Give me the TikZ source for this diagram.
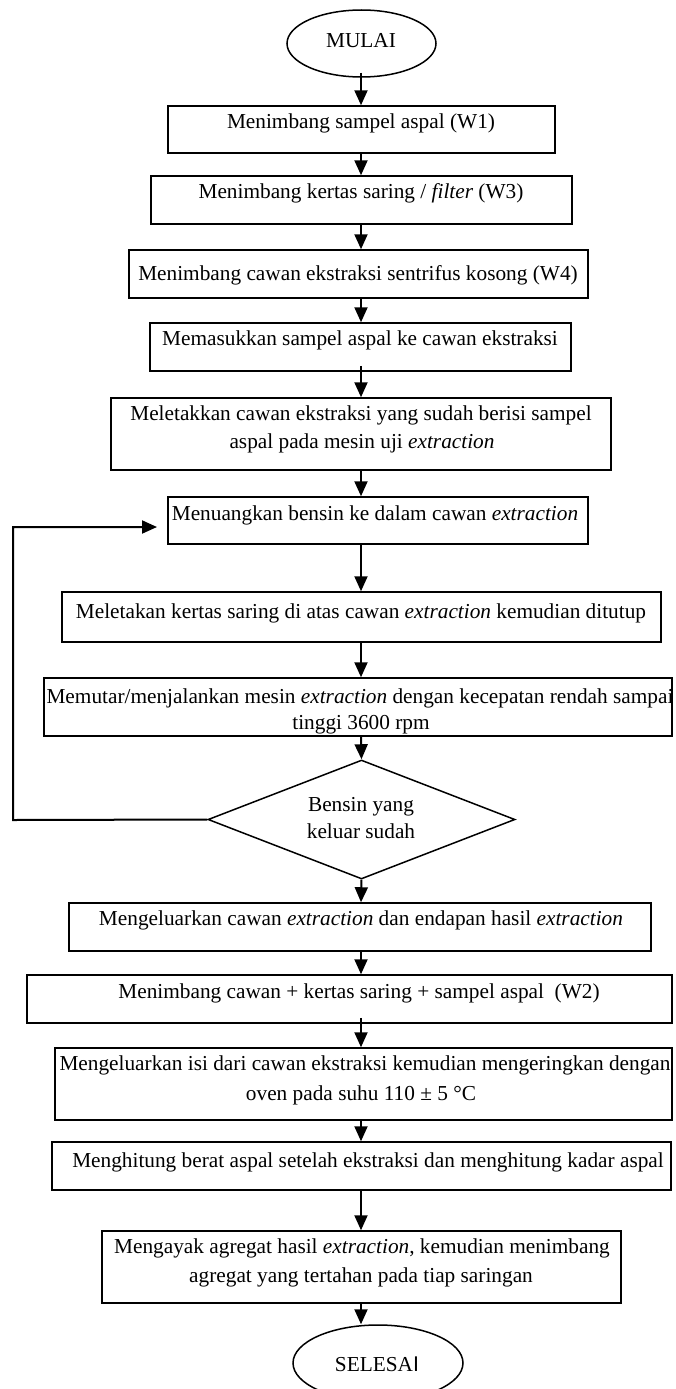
\documentclass[tikz,border=0pt]{standalone}
\usepackage{fontspec}
\setmainfont{Liberation Serif}
\newfontfamily\sansI{Liberation Sans}
\usetikzlibrary{arrows.meta,shapes.geometric}
\begin{document}
\begin{tikzpicture}[x=1pt,y=-1pt,
  box/.style={draw,line width=1.5pt,rectangle,inner sep=0pt},
  oval/.style={draw,line width=1.5pt,ellipse,inner sep=0pt},
  dia/.style={draw,line width=1.5pt,diamond,inner sep=0pt},
  txt/.style={inner sep=0pt,anchor=base,font=\fontsize{21.3}{28}\selectfont},
  arr/.style={line width=2pt,-{Triangle[width=13pt,length=15pt]}},
  lin/.style={line width=2pt}]
\useasboundingbox (0,0) rectangle (675,1389);
\coordinate (axis) at (361,0);
% shapes
\node[oval,minimum width=149,minimum height=67] (start) at (361.5,43.5) {};
\node[box,minimum width=387,minimum height=47] (b1) at (361.5,129.5) {};
\node[box,minimum width=421,minimum height=48] (b2) at (361.5,200) {};
\node[box,minimum width=459,minimum height=48] (b3) at (358.5,274) {};
\node[box,minimum width=421,minimum height=48] (b4) at (360.5,347) {};
\node[box,minimum width=500,minimum height=72] (b5) at (361,434) {};
\node[box,minimum width=420,minimum height=47] (b6) at (378,520.5) {};
\node[box,minimum width=599,minimum height=50] (b7) at (361.5,617) {};
\node[box,minimum width=628,minimum height=58] (b8) at (358,707) {};
\node[dia,minimum width=307,minimum height=119] (d) at (361.5,819.5) {};
\node[box,minimum width=582,minimum height=48] (b9) at (360,927) {};
\node[box,minimum width=645,minimum height=48] (b10) at (349.5,999) {};
\node[box,minimum width=617,minimum height=72] (b11) at (363.5,1084) {};
\node[box,minimum width=619,minimum height=48] (b12) at (361.5,1166) {};
\node[box,minimum width=519,minimum height=72] (b13) at (361.5,1267) {};
\node[oval,minimum width=170,minimum height=76] (end) at (378,1363) {};
% texts
\node[txt] (tstart) at (361,48) {MULAI};
\node[txt] (t1) at (361,128) {Menimbang sampel aspal (W1)};
\node[txt] (t2) at (361,198) {Menimbang kertas saring / \textit{filter} (W3)};
\node[txt] (t3) at (358,280) {Menimbang cawan ekstraksi sentrifus kosong (W4)};
\node[txt] (t4) at (360,345) {Memasukkan sampel aspal ke cawan ekstraksi};
\node[txt] (t5a) at (361,420) {Meletakkan cawan ekstraksi yang sudah berisi sampel};
\node[txt] (t5b) at (362,448) {aspal pada mesin uji \textit{extraction}};
\node[txt] (t6) at (375,520) {Menuangkan bensin ke dalam cawan \textit{extraction}};
\node[txt] (t7) at (361,618) {Meletakan kertas saring di atas cawan \textit{extraction} kemudian ditutup};
\node[txt] (t8a) at (360,703) {Memutar/menjalankan mesin \textit{extraction} dengan kecepatan rendah sampai};
\node[txt] (t8b) at (361,729) {tinggi 3600 rpm};
\node[txt] (tda) at (361,811) {Bensin yang};
\node[txt] (tdb) at (361,838) {keluar sudah};
\node[txt] (t9) at (361,925) {Mengeluarkan cawan \textit{extraction} dan endapan hasil \textit{extraction}};
\node[txt] (t10) at (359,998) {Menimbang cawan + kertas saring + sampel aspal\ \ (W2)};
\node[txt] (t11a) at (365,1070) {Mengeluarkan isi dari cawan ekstraksi kemudian mengeringkan dengan};
\node[txt] (t11b) at (361,1100) {oven pada suhu 110 ± 5 °C};
\node[txt] (t12) at (368,1167) {Menghitung berat aspal setelah ekstraksi dan menghitung kadar aspal};
\node[txt] (t13a) at (362,1253) {Mengayak agregat hasil \textit{extraction}, kemudian menimbang};
\node[txt] (t13b) at (361,1282) {agregat yang tertahan pada tiap saringan};
\node[txt] (tend) at (377,1371) {SELESA{\sansI I}};
% connectors
\draw[arr] ([yshift=5]start.south -| axis) -- (b1.north -| axis);
\draw[arr] (b1.south -| axis) -- (b2.north -| axis);
\draw[arr] (b2.south -| axis) -- (b3.north -| axis);
\draw[arr] (b3.south -| axis) -- (b4.north -| axis);
\draw[arr] ([yshift=6]b4.south -| axis) -- (b5.north -| axis);
\draw[arr] (b5.south -| axis) -- (b6.north -| axis);
\draw[arr] (b6.south -| axis) -- (b7.north -| axis);
\draw[arr] (b7.south -| axis) -- (b8.north -| axis);
\draw[arr] (b8.south -| axis) -- (d.north);
\draw[arr] (d.south) -- (b9.north -| axis);
\draw[arr] (b9.south -| axis) -- (b10.north -| axis);
\draw[arr] ([yshift=6]b10.south -| axis) -- (b11.north -| axis);
\draw[arr] (b11.south -| axis) -- (b12.north -| axis);
\draw[arr] (b12.south -| axis) -- (b13.north -| axis);
\draw[arr] (b13.south -| axis) -- (end.north -| axis);
\coordinate (lpA) at (13,820);
\coordinate (lpB) at (13,527);
\coordinate (lpEnd) at (157,527);
\draw[arr] (d.west) -- (lpA) -- (lpB) -- (lpEnd);
\end{tikzpicture}
\end{document}
